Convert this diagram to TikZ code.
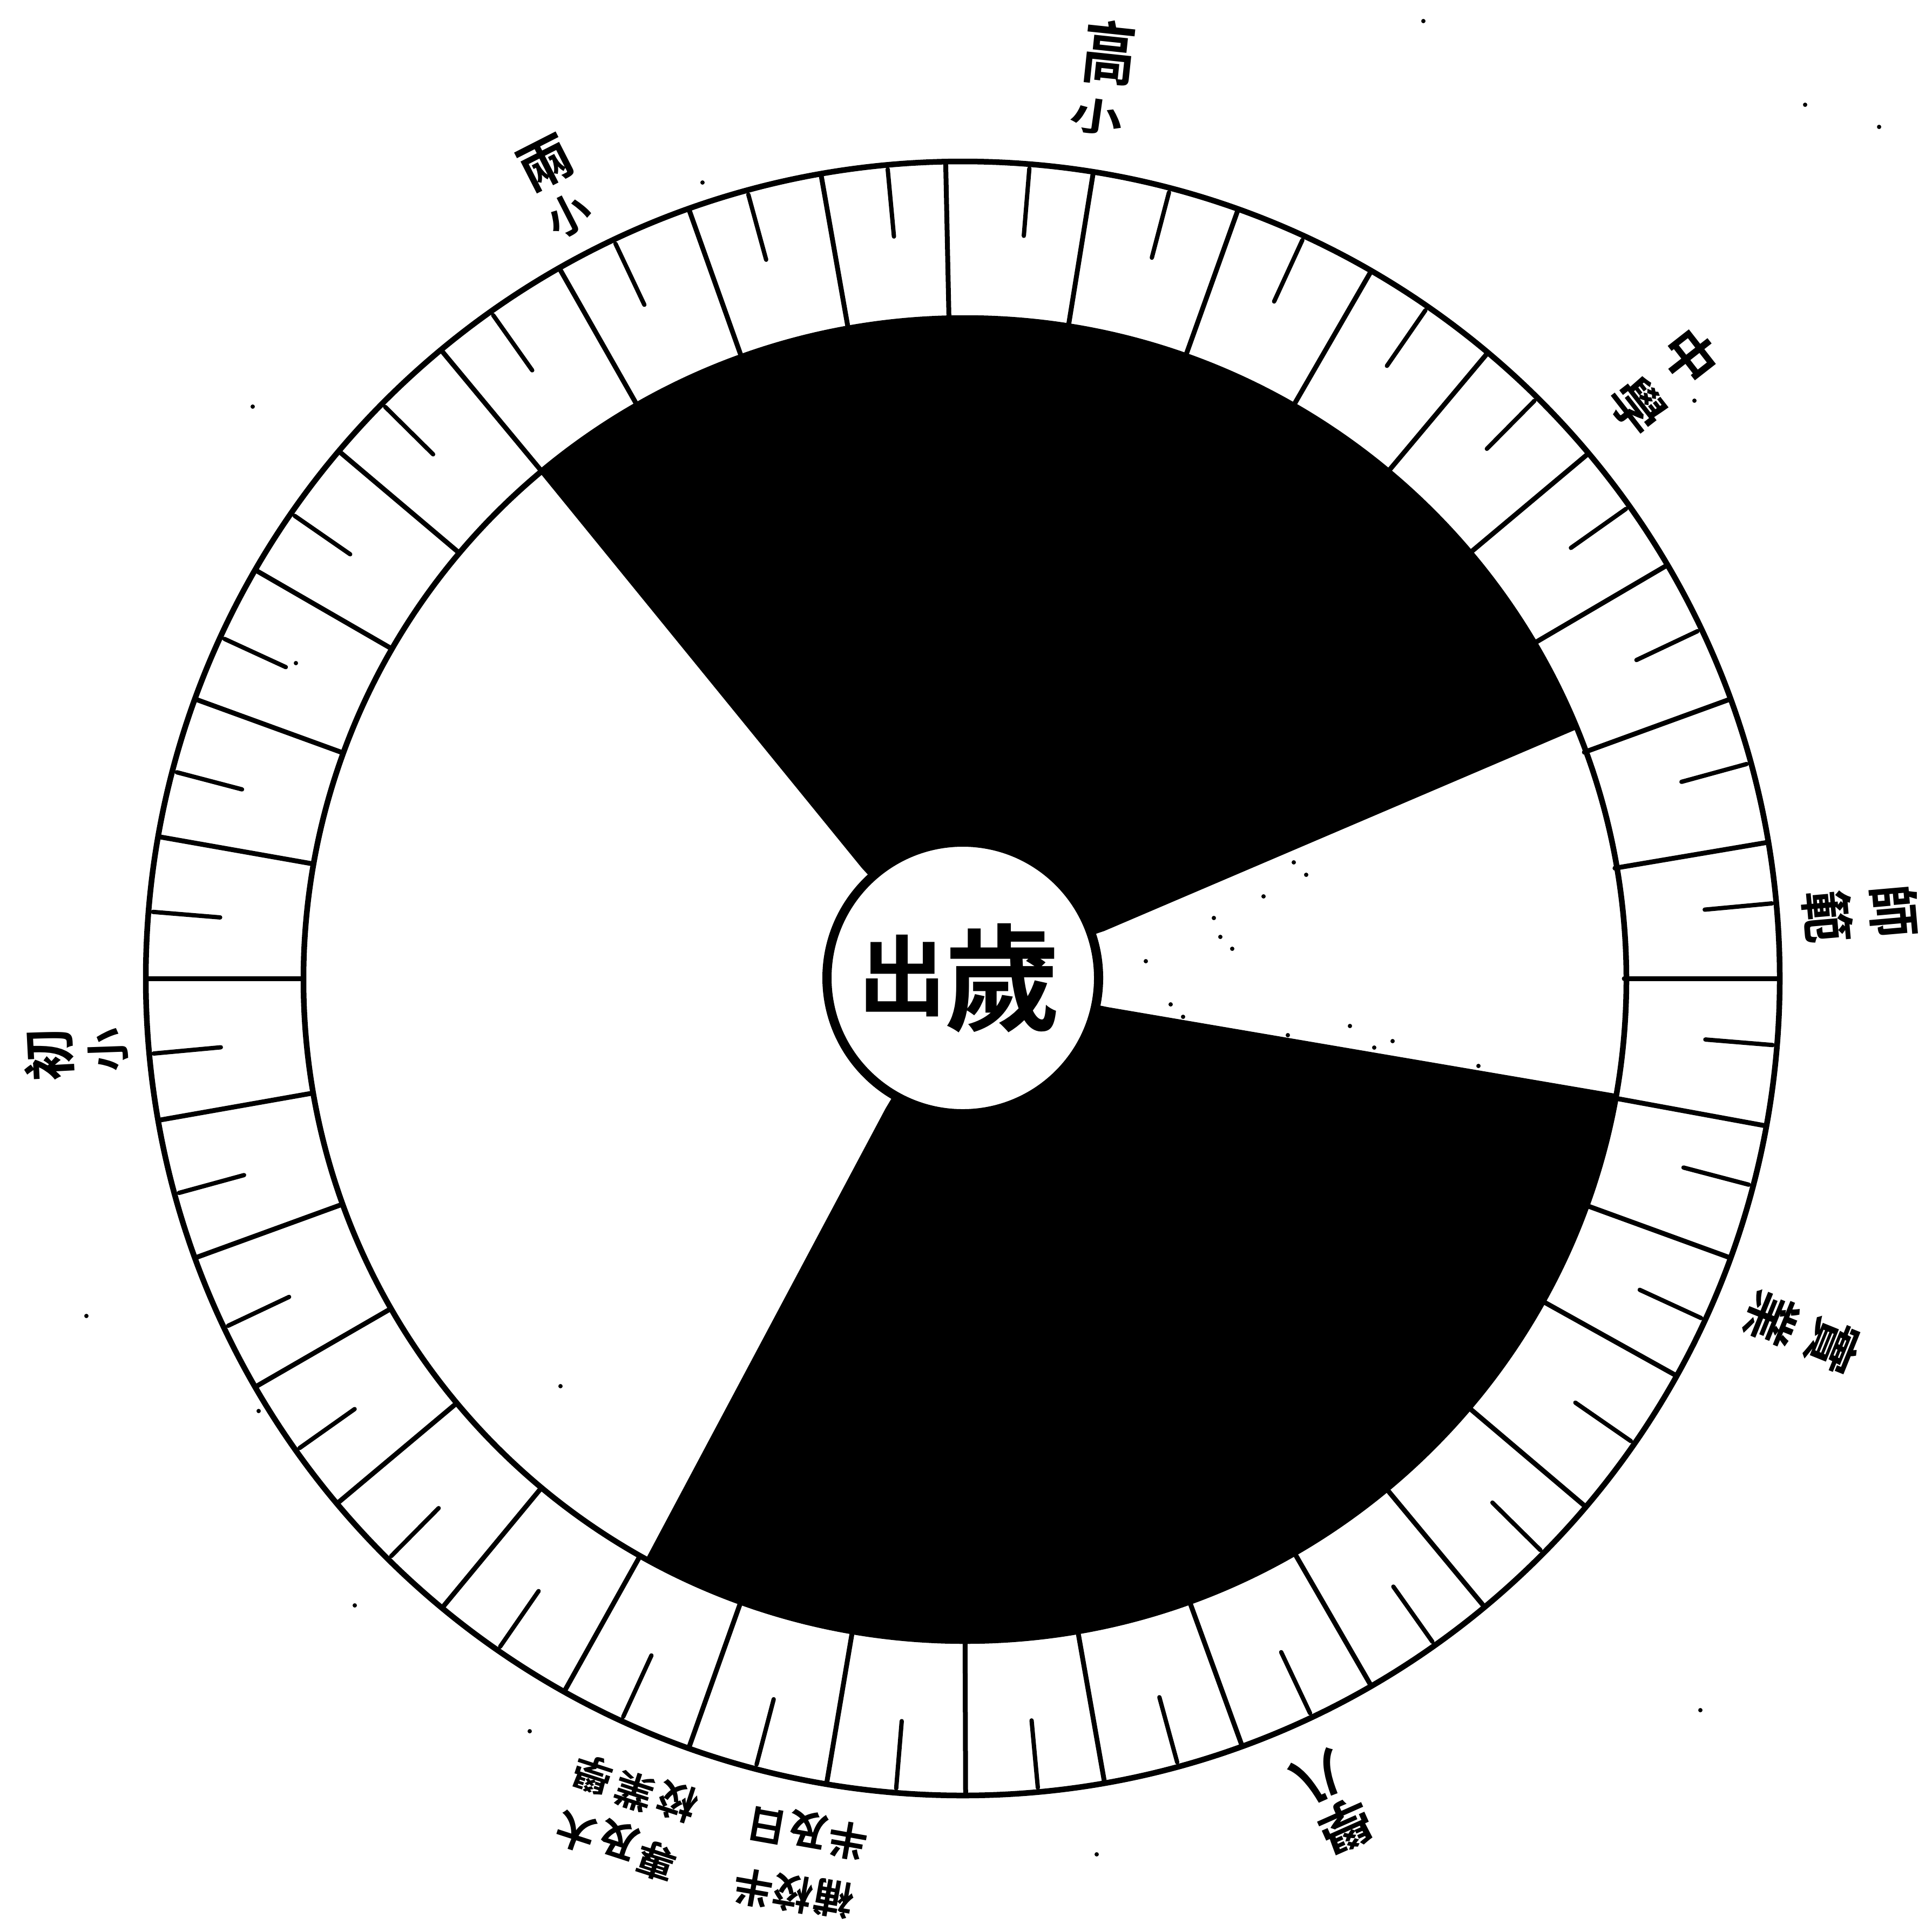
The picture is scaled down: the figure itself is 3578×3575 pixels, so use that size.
\documentclass[tikz,border=0pt]{standalone}
\usepackage{fontspec}
\newfontfamily\cjk[BoldFont={Noto Sans CJK TC Bold}]{Noto Sans CJK TC}
\tikzset{
  dialline/.style={line width=2.1mm,black},
  fulltick/.style={line width=1.8mm,black,line cap=round},
  shorttick/.style={line width=1.6mm,black,line cap=round},
  blacksector/.style={fill=black,draw=black,line width=0.4mm},
  hubdisc/.style={circle,draw=black,fill=white,line width=3.4mm,minimum size=100.6mm,inner sep=0pt},
  suitext/.style={inner sep=0pt,font=\cjk\bfseries\fontsize{122}{122}\selectfont},
  chutext/.style={inner sep=0pt,font=\cjk\bfseries\fontsize{92}{92}\selectfont},
  biglab/.style={inner sep=0pt,font=\cjk\bfseries\fontsize{72}{72}\selectfont},
  midlab/.style={inner sep=0pt,font=\cjk\bfseries\fontsize{56}{56}\selectfont},
  lowlab/.style={inner sep=0pt,font=\cjk\bfseries\fontsize{46}{46}\selectfont},
  smalllab/.style={inner sep=0pt,font=\cjk\bfseries\fontsize{42}{42}\selectfont},
}
\begin{document}
\begin{tikzpicture}[x=0.2mm,y=-0.2mm]
\useasboundingbox (0,0) rectangle (3578,3575);
\fill[white] (0,0) rectangle (3578,3575);
\coordinate (C) at (1783,1812);
% black sectors
\path[blacksector] (1786,1811) -- (1597,1607) -- (1004,879)
  -- plot[domain=-39.9:67.7,samples=70] ({1787+1222*sin(\x)},{1814-1222*cos(\x)})
  -- (2045,1723) -- cycle;
\path[blacksector] (1786,1811) -- (2051,1866) -- (2989,2026)
  -- plot[domain=100:208.8,samples=70] ({1787+1222*sin(\x)},{1814-1222*cos(\x)})
  -- (1641,2053) -- cycle;
% ring
\draw[dialline] (C) circle[radius=1513];
\draw[dialline] (1787,1814) circle[radius=1225];
\foreach \k/\o in {0/-1.2,1/-0.8,2/-0.3,3/0,4/0,5/0,6/-0.4,7/0,8/0.4,9/0,10/0.4,11/0,12/-0.9,13/0.3,14/0.3,15/0,16/0,17/0,18/-0.2,19/-0.4,20/-0.4,21/-0.8,22/-0.4,23/0,24/0,25/0,26/0,27/0,28/0,29/0,30/0,31/0.2,32/0.3,33/0.4,34/0.4,35/0}{
  \pgfmathsetmacro{\a}{10*\k+\o}
  \pgfmathsetmacro{\b}{10*\k+4.7}
  \draw[fulltick] ({1783+1513*sin(\a)},{1812-1513*cos(\a)}) -- ({1783+1225*sin(\a)},{1812-1225*cos(\a)});
  \draw[shorttick] ({1783+1505*sin(\b)},{1812-1505*cos(\b)}) -- ({1783+1380*sin(\b)},{1812-1380*cos(\b)});
}
% hub
\node[hubdisc] (hub) at (1783,1811) {};
\node[suitext] (sui) at (1857,1811) {歲};
\node[chutext] (chu) at (1671,1807) {出};
% labels
\node[biglab,rotate=-6] (t1) at (2055,97) {\scalebox{0.78}[1]{高}};
\node[midlab,rotate=-8] (t2) at (2031,216) {\scalebox{1}[0.72]{小}};
\node[midlab,rotate=27] (ul1) at (1011,302) {兩};
\node[lowlab,rotate=27] (ul2) at (1053,398) {小};
\node[midlab,rotate=-52] (ur1) at (3130,660) {中};
\node[midlab,rotate=-52] (ur2) at (3033,751) {學};
\node[midlab,rotate=-85] (r1) at (3507,1687) {師};
\node[midlab,rotate=-85] (r2) at (3384,1697) {範};
\node[midlab,rotate=-112] (lr1) at (3395,2492) {實};
\node[midlab,rotate=-112] (lr2) at (3281,2442) {業};
\node[midlab,rotate=-156] (b1) at (2492,3381) {學};
\node[midlab,rotate=-156] (b2) at (2441,3291) {八};
\node[midlab,rotate=93] (l1) at (90,1953) {初};
\node[lowlab,rotate=92] (l2) at (200,1944) {小};
% bottom-left group
\node[smalllab,rotate=162] (a) at (1098,3287) {學};
\node[smalllab,rotate=162] (b) at (1175,3318) {業};
\node[smalllab,rotate=162] (c) at (1255,3337) {校};
\node[smalllab,rotate=162] (d) at (1067,3393) {大};
\node[smalllab,rotate=162] (e) at (1146,3407) {及};
\node[smalllab,rotate=162] (f) at (1216,3447) {專};
% bottom-centre group
\node[smalllab,rotate=170] (g) at (1421,3381) {日};
\node[smalllab,rotate=170] (h) at (1497,3388) {及};
\node[smalllab,rotate=170] (i) at (1570,3409) {半};
\node[smalllab,rotate=170] (j) at (1395,3497) {半};
\node[smalllab,rotate=170] (k) at (1468,3507) {校};
\node[smalllab,rotate=170] (l) at (1544,3517) {補};
% specks
\foreach \x/\y in {2636/39,3343/194,3480/235,3138/742,160/2437,657/2973,981/3206,2031/3434,3149/3167,2761/2494,1301/338,479/2613,468/753,1038/2567,548/1228,
 2248/1700,2260/1735,2396/1597,2419/1620,2122/1780,2168/1860,2545/1940,2579/1928,2694/1985,2738/1974,2191/1883,2385/1917,2453/1940,2282/1757,2210/1900,2340/1660,2500/1900}
  \fill[black] (\x,\y) circle[radius=4];
\end{tikzpicture}
\end{document}
